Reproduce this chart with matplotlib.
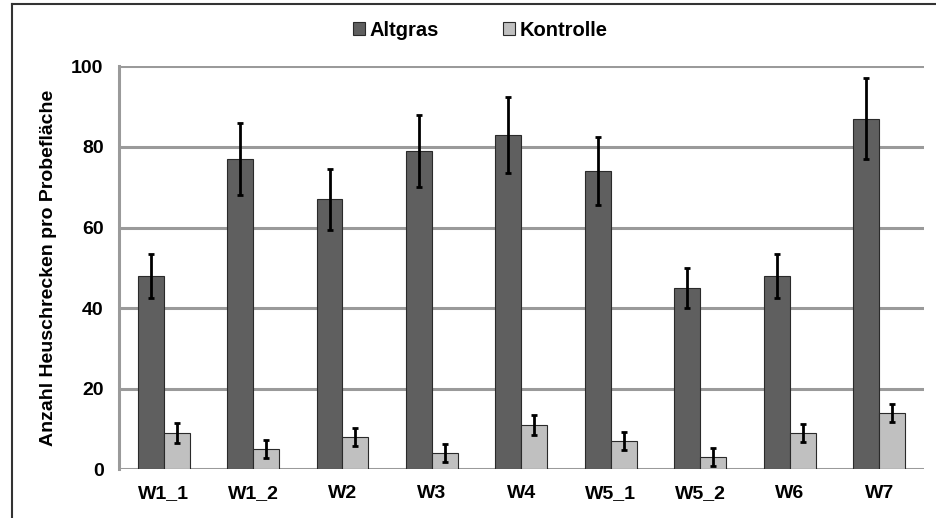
import matplotlib
matplotlib.use("Agg")
import matplotlib.pyplot as plt
from matplotlib.lines import Line2D
import numpy as np

plt.rcParams["font.family"] = ["Liberation Sans", "DejaVu Sans"]
plt.rcParams["font.weight"] = "bold"

sites = ["W1_1", "W1_2", "W2", "W3", "W4", "W5_1", "W5_2", "W6", "W7"]
altgras = [48, 77, 67, 79, 83, 74, 45, 48, 87]
altgras_err = [5.5, 9, 7.5, 9, 9.5, 8.5, 5, 5.5, 10]
kontrolle = [9, 5, 8, 4, 11, 7, 3, 9, 14]
kontrolle_err = [2.5, 2.3, 2.3, 2.3, 2.4, 2.3, 2.3, 2.3, 2.3]

fig = plt.figure(figsize=(9.36, 5.18), dpi=100)
ax = fig.add_axes([0.127, 0.094, 0.86, 0.778])

x = np.arange(len(sites))
w = 0.29
ekw = dict(ecolor="black", elinewidth=2, capsize=2.3, capthick=2)
ax.bar(x - w / 2, altgras, w, yerr=altgras_err, color="#5f5f5f",
       edgecolor="#2a2a2a", linewidth=0.8, label="Altgras", error_kw=ekw, zorder=3)
ax.bar(x + w / 2, kontrolle, w, yerr=kontrolle_err, color="#c0c0c0",
       edgecolor="#2a2a2a", linewidth=0.8, label="Kontrolle", error_kw=ekw, zorder=3)

ax.set_xlim(-0.5, len(sites) - 0.5)
ax.set_ylim(0, 100)
ax.set_yticks(range(0, 101, 20))
ax.yaxis.grid(True, color="#9a9a9a", lw=2.2)
ax.set_axisbelow(True)
for s in ["top", "right", "bottom"]:
    ax.spines[s].set_visible(False)
ax.spines["left"].set_color("#9a9a9a")
ax.spines["left"].set_linewidth(2.2)
ax.tick_params(length=0, labelsize=14, pad=11)
ax.set_xticks(x)
ax.set_xticklabels(sites, fontweight="bold")
for t in ax.get_yticklabels():
    t.set_fontweight("bold")
ax.set_ylabel("Anzahl Heuschrecken pro Probefläche", fontsize=14, fontweight="bold", labelpad=10)

fig.legend(*ax.get_legend_handles_labels(), loc="center", bbox_to_anchor=(0.513, 1 - 30 / 518),
           ncol=2, frameon=False, fontsize=14.5, handlelength=0.6, handleheight=0.6,
           handletextpad=0.2, columnspacing=3.2)

# outer frame
fig.add_artist(Line2D([12 / 936, 12 / 936], [0, 1 - 4 / 518], color="#333333", lw=1.5))
fig.add_artist(Line2D([12 / 936, 1], [1 - 4 / 518, 1 - 4 / 518], color="#333333", lw=1.5))

fig.savefig("out.png", dpi=100)
